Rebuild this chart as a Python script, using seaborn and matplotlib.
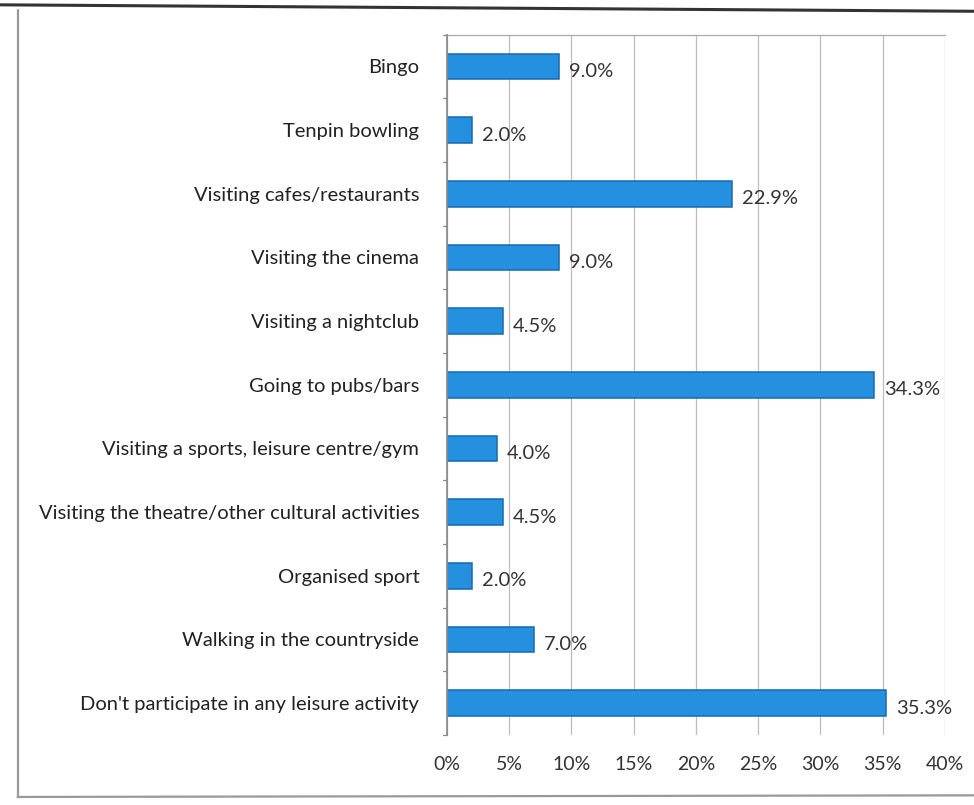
import matplotlib
matplotlib.use("Agg")
import matplotlib.pyplot as plt
from matplotlib.lines import Line2D
import seaborn as sns
import pandas as pd

categories = [
    "Bingo",
    "Tenpin bowling",
    "Visiting cafes/restaurants",
    "Visiting the cinema",
    "Visiting a nightclub",
    "Going to pubs/bars",
    "Visiting a sports, leisure centre/gym",
    "Visiting the theatre/other cultural activities",
    "Organised sport",
    "Walking in the countryside",
    "Don't participate in any leisure activity",
]
shares = [9.0, 2.0, 22.9, 9.0, 4.5, 34.3, 4.0, 4.5, 2.0, 7.0, 35.3]
x_ticks = [0, 5, 10, 15, 20, 25, 30, 35, 40]
x_tick_labels = [f"{t}%" for t in x_ticks]

df = pd.DataFrame({"activity": categories, "share": shares})

sns.set_theme(style="white")
plt.rcParams["font.family"] = ["Lato", "DejaVu Sans"]

fig = plt.figure(figsize=(9.74, 8.05), dpi=100)
ax = fig.add_axes([0.459, 0.087, 0.511, 0.870])

sns.barplot(data=df, x="share", y="activity", orient="h", color="#2590E0",
            width=0.4, edgecolor="#176AAE", linewidth=1.1, saturation=1, ax=ax)

ax.set_xlim(0, 40)
ax.set_ylim(10.5, -0.5)
ax.set_xticks(x_ticks)
ax.set_xticklabels(x_tick_labels, fontsize=14, color="#333333")
ax.tick_params(axis="x", length=0, pad=15)
ax.set_yticks(range(len(categories)))
ax.set_yticklabels(categories, fontsize=14.5, color="#222222")
ax.tick_params(axis="y", length=0, pad=20)
# small ticks between categories on the value axis line
for b in range(len(categories) + 1):
    ax.plot([-0.35, 0], [b - 0.5, b - 0.5], color="#8a8a8a", lw=0.9,
            clip_on=False, zorder=3)
ax.set_xlabel("")
ax.set_ylabel("")

ax.grid(axis="x", color="#bdbdbd", linewidth=0.9)
ax.set_axisbelow(True)
for side in ["right", "bottom"]:
    ax.spines[side].set_visible(False)
ax.spines["left"].set_color("#8a8a8a")
ax.spines["top"].set_color("#aaaaaa")
ax.spines["top"].set_linewidth(0.9)

for i, v in enumerate(shares):
    ax.text(v + 0.8, i + 0.08, f"{v:.1f}%", va="center", ha="left",
            fontsize=14.5, color="#333333")

# outer chart frame
fig.add_artist(Line2D([0, 1], [0.994, 0.986], color="#333333", lw=2.2,
                      transform=fig.transFigure))
fig.add_artist(Line2D([0.018, 0.018], [0.988, 0.010], color="#999999", lw=1.6,
                      transform=fig.transFigure))
fig.add_artist(Line2D([0.018, 1], [0.010, 0.012], color="#999999", lw=1.6,
                      transform=fig.transFigure))

fig.savefig("out.png", dpi=100, facecolor="white")
